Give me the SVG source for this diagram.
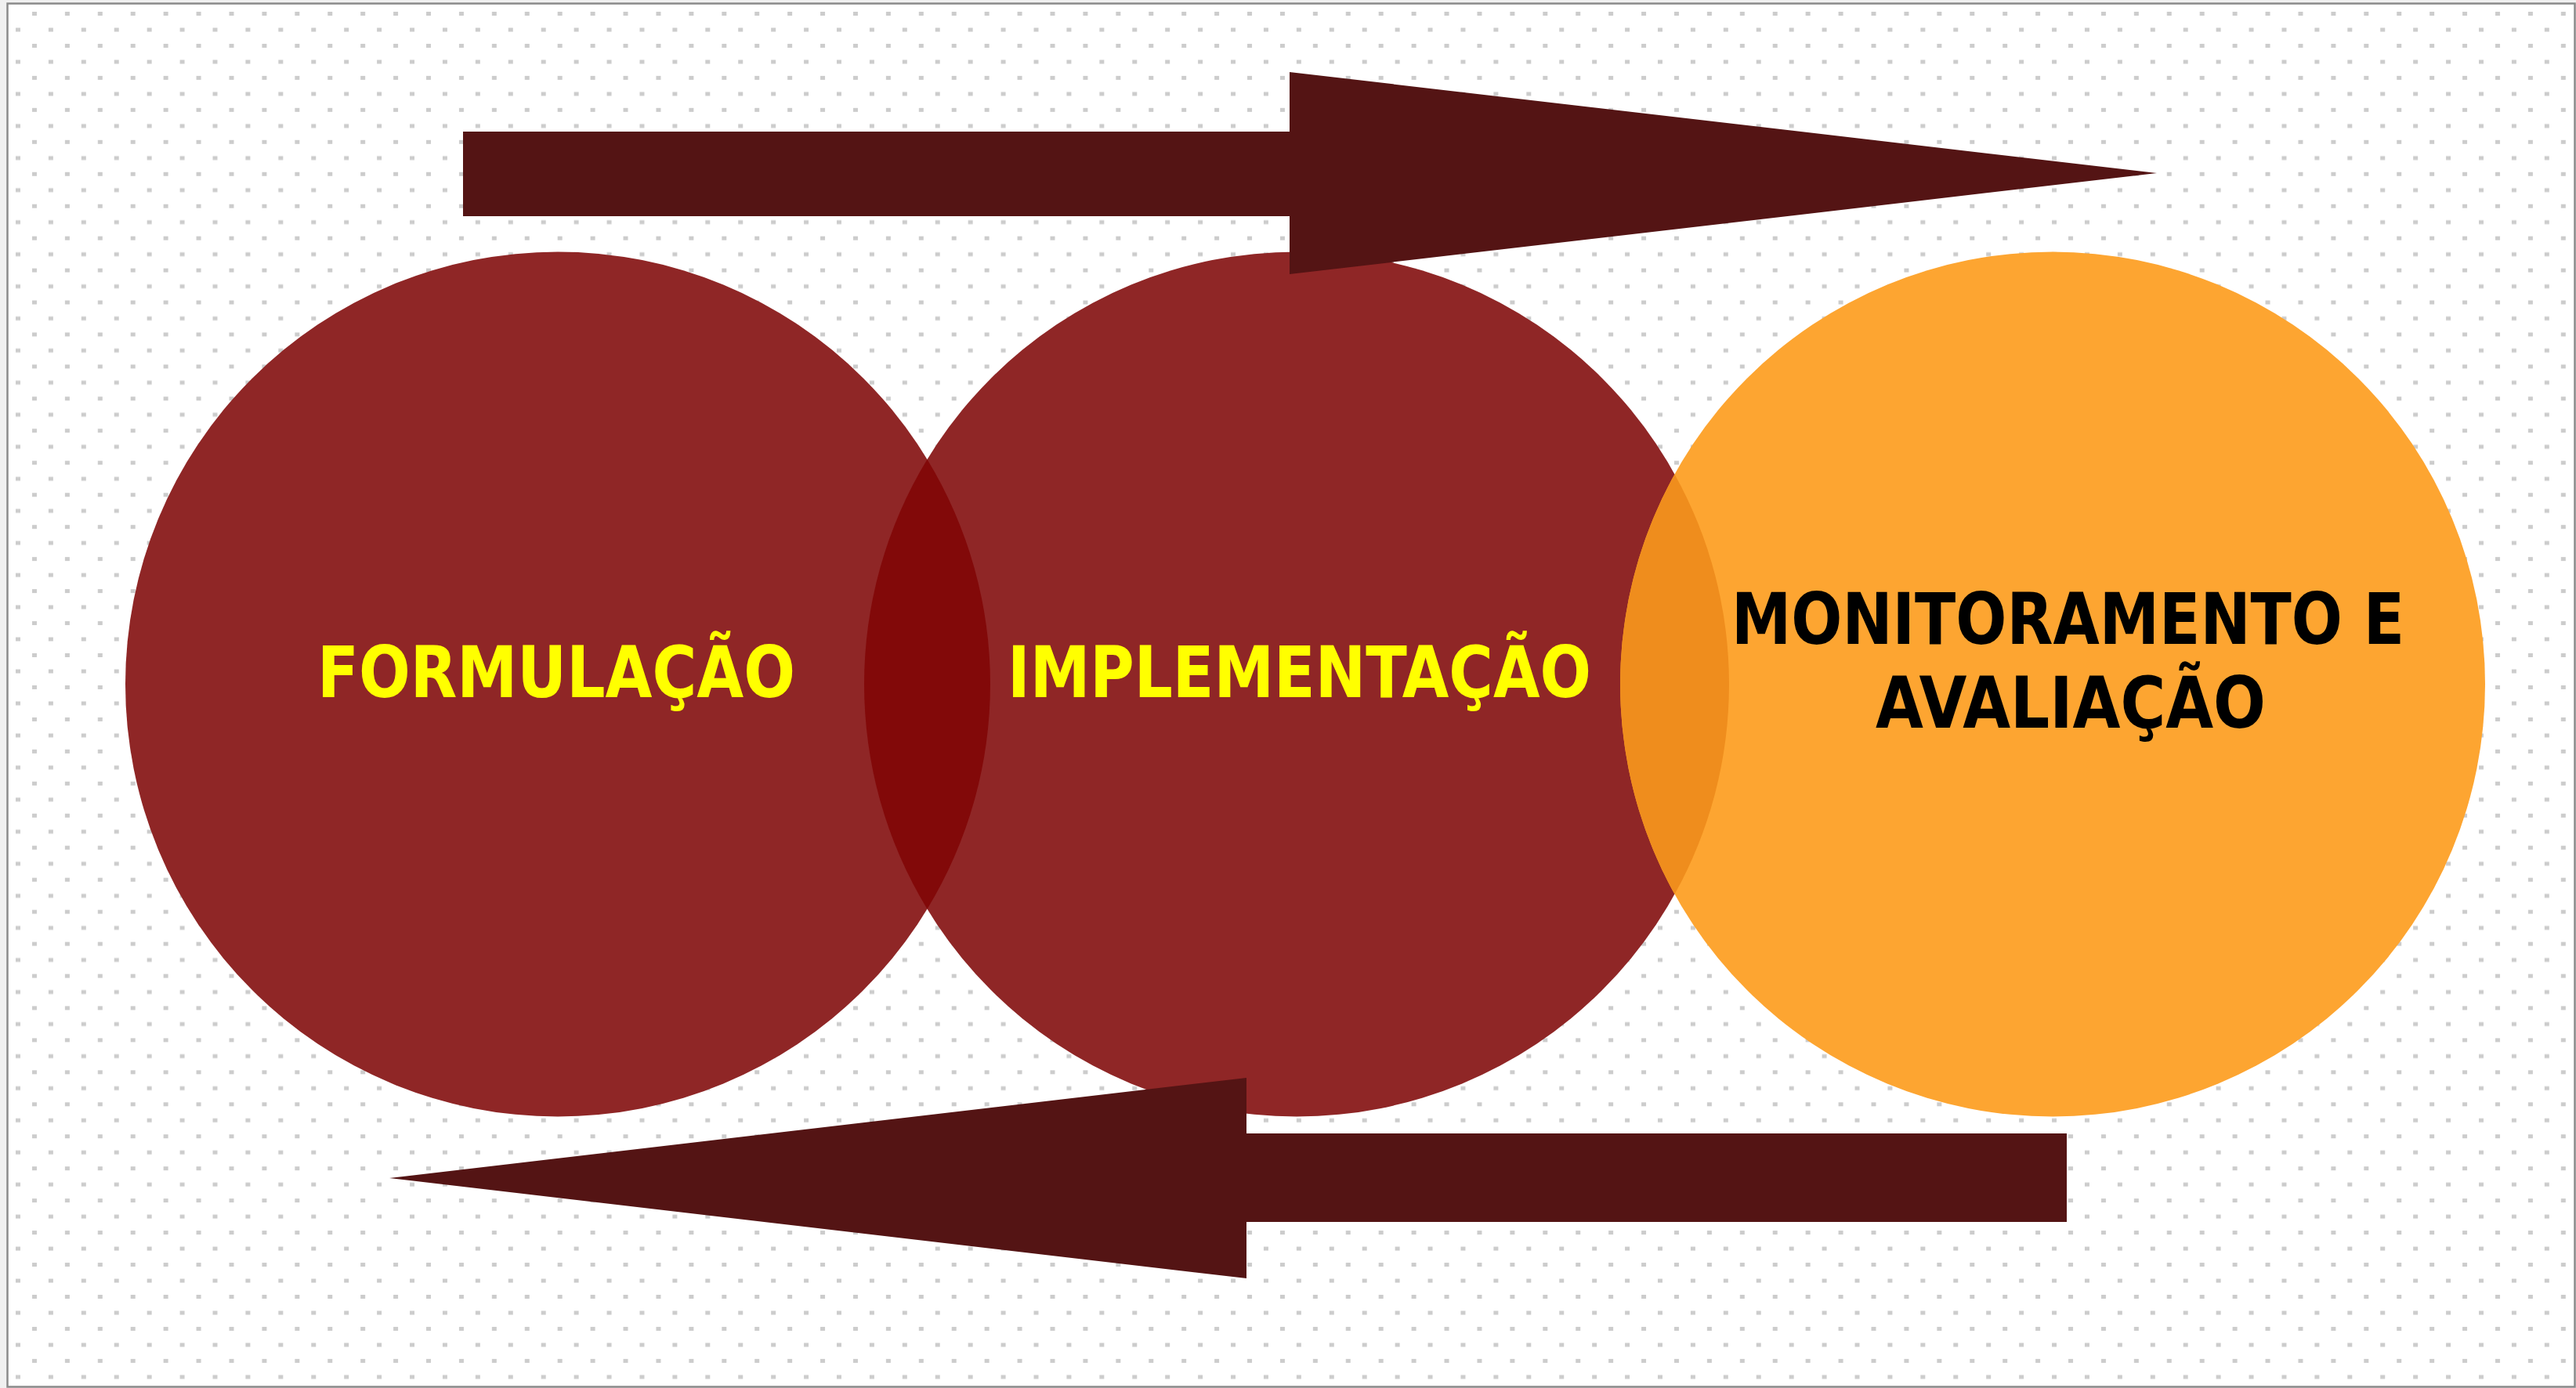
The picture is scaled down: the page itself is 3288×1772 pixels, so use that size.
<svg xmlns="http://www.w3.org/2000/svg" width="3288" height="1772" viewBox="0 0 3288 1772">
  <defs>
    <pattern id="dots" patternUnits="userSpaceOnUse" x="20" y="15" width="41.92" height="40.95">
      <rect x="21" y="0" width="6" height="5" fill="#cccccc"/>
      <rect x="0" y="20.5" width="6" height="5" fill="#cccccc"/>
    </pattern>
  </defs>
  <style>
    .red { fill: #8f2626; }
    .lens { fill: #820909; }
    .orange { fill: #fda531; }
    .olens { fill: #ef8d1d; }
    .arrow { fill: #541414; }
    .lbl { font-family: "DejaVu Sans", "Liberation Sans", sans-serif; font-weight: bold; font-size: 90.5px; }
    .yel { fill: #ffff00; }
    .blk { fill: #000000; }
  </style>
  <rect x="0" y="0" width="3288" height="1772" fill="#f0f0f0"/>
  <rect x="9.5" y="4.5" width="3277" height="1766" fill="#ffffff"/>
  <rect x="9.5" y="4.5" width="3277" height="1766" fill="url(#dots)" stroke="#8a8a8a" stroke-width="2.5"/>

  <g id="formulacao">
    <circle class="red" cx="712" cy="873.5" r="552"/>
  </g>
  <g id="implementacao">
    <circle class="red" cx="1655" cy="873.5" r="552"/>
    <path class="lens" d="M 1183.5 586.5 A 552 552 0 0 1 1183.5 1160.5 A 552 552 0 0 1 1183.5 586.5 Z"/>
  </g>
  <g id="monitoramento">
    <circle class="orange" cx="2620" cy="873.5" r="552"/>
    <path class="olens" d="M 2137.5 605.4 A 552 552 0 0 1 2137.5 1141.6 A 552 552 0 0 1 2137.5 605.4 Z"/>
  </g>

  <g id="connectors">
    <polygon class="arrow" points="591,168 1646,168 1646,92 2753,221 1646,350 1646,276 591,276"/>
    <polygon class="arrow" points="2638,1447 1591,1447 1591,1376 497,1504 1591,1632 1591,1560 2638,1560"/>
  </g>

  <g id="labels">
    <text class="lbl yel" x="405" y="890" textLength="610" lengthAdjust="spacingAndGlyphs">FORMULAÇÃO</text>
    <text class="lbl yel" x="1286" y="890" textLength="745" lengthAdjust="spacingAndGlyphs">IMPLEMENTAÇÃO</text>
    <text class="lbl blk" x="2210" y="822" textLength="859" lengthAdjust="spacingAndGlyphs">MONITORAMENTO E</text>
    <text class="lbl blk" x="2394" y="929" textLength="498" lengthAdjust="spacingAndGlyphs">AVALIAÇÃO</text>
  </g>
</svg>
